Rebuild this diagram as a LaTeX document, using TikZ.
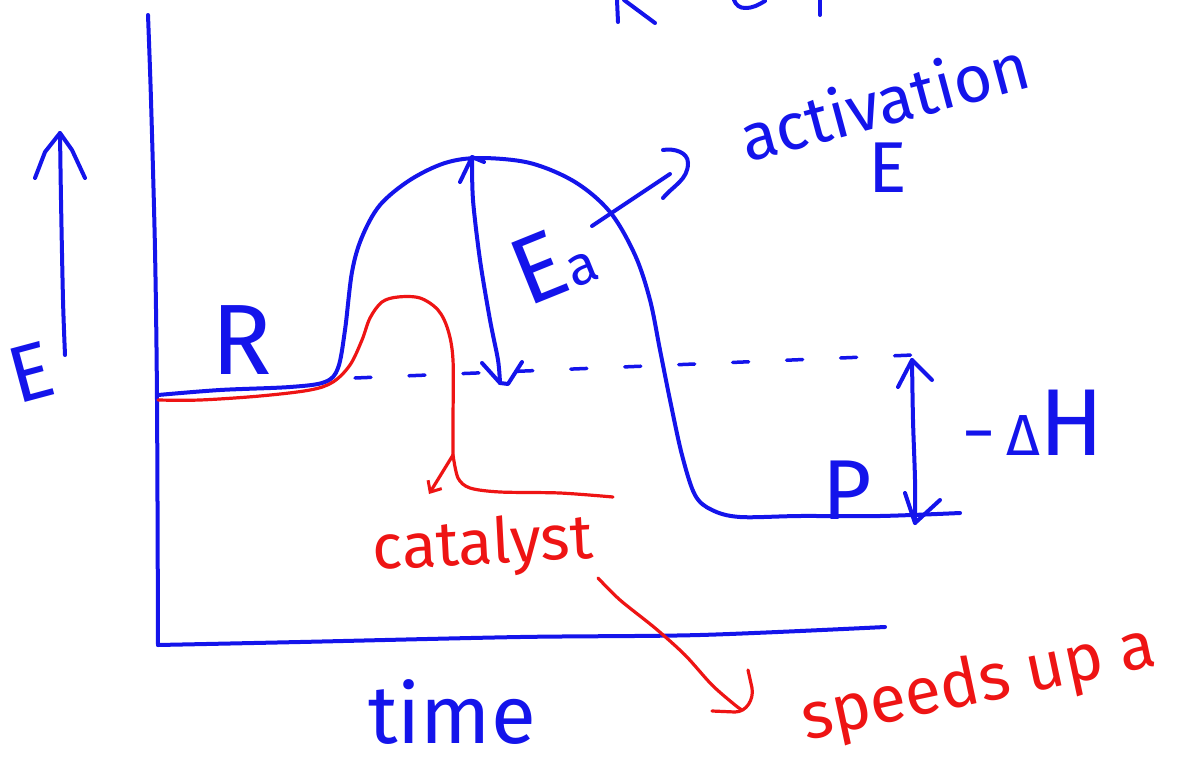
\documentclass[tikz,border=0pt]{standalone}
\usepackage{fontspec}
\setmainfont{Fira Sans}
\usetikzlibrary{arrows.meta}
\definecolor{pen}{RGB}{20,20,235}
\definecolor{redpen}{RGB}{238,20,20}
\tikzset{
  ink/.style={draw=pen, line width=4pt, line cap=round, line join=round},
  redink/.style={draw=redpen, line width=3.2pt, line cap=round, line join=round},
  hand/.style={text=pen, inner sep=0pt, outer sep=0pt},
  redhand/.style={text=redpen, inner sep=0pt, outer sep=0pt},
}
\newcommand{\fsz}[1]{\fontsize{#1}{#1}\selectfont}
\begin{document}
\begin{tikzpicture}[x=1pt,y=-1pt]
\useasboundingbox (0,0) rectangle (1183,768);
\fill[white] (0,0) rectangle (1183,768);

% cut-off strokes at the top edge
\draw[ink] (617,0) -- (618,22);
\draw[ink] (624,0) -- (655,23);
\draw[ink] (734,0) to[out=-70,in=180] (745,8) to[out=0,in=-150] (765,1);
\draw[ink] (820,0) -- (820,15);

% axes
\coordinate (ytop) at (148,15);
\coordinate (origin) at (158,645);
\coordinate (xend) at (885,627);
\draw[ink] plot[smooth] coordinates {(ytop) (151,100) (155,250) (157,400) (origin)};
\draw[ink] plot[smooth] coordinates {(origin) (300,642) (520,637) (700,635) (xend)};

% E axis arrow
\coordinate (ea0) at (65,355);
\coordinate (ea1) at (60,133);
\draw[ink] plot[smooth] coordinates {(ea0) (63,300) (61,200) (ea1)};
\draw[ink] (35,178) -- (45,152) -- (ea1) -- (72,150) -- (85,178);
\node[hand, font=\fsz{80}, rotate=15] (Eaxis) at (31,372) {E};

% reaction curve (blue)
\draw[ink] plot[smooth, tension=0.55] coordinates {
 (158,395) (220,390) (290,387) (325,382) (338,368) (345,330) (352,272) (362,237)
 (380,205) (410,180) (445,163) (480,158) (530,163) (575,182) (610,212) (635,255)
 (650,300) (660,350) (670,400) (682,455) (695,495) (712,510) (740,517) (800,516)
 (880,516) (960,513)};

% catalysed curve (red)
\coordinate (split) at (453,455);
\draw[redink] plot[smooth, tension=0.55] coordinates {
 (158,400) (200,400) (260,396) (310,390) (333,382) (350,365) (362,340) (370,318)
 (382,302) (398,297) (420,298) (438,310) (448,330) (453,360) (453,420) (split)};
\draw[redink, -{Straight Barb[length=9pt,width=16pt,line width=3pt]}] (split) -- (429,494);
\draw[redink] plot[smooth, tension=0.5] coordinates {(split) (458,478) (470,488) (500,492) (560,493) (613,497)};

% dashed reactant level
\coordinate (d0) at (355,378);
\coordinate (d1) at (913,355);
\draw[ink, line width=3.5pt, dash pattern=on 16pt off 38pt] (d0) -- (d1);

% Ea double arrow
\coordinate (eatop) at (472,157);
\coordinate (eabot) at (500,383);
\draw[ink] plot[smooth] coordinates {(eatop) (473,200) (480,260) (490,320) (498,360) (eabot)};
\draw[ink] (460,182) -- (eatop) -- (484,162);
\draw[ink] (482,363) -- (eabot) -- (508,384) -- (522,362);
\node[hand, rotate=22] (Ea) at (553,262) {\fsz{95}E\fsz{55}a};

% arrow to "activation E"
\coordinate (aa0) at (592,226);
\coordinate (aa1) at (670,174);
\draw[ink] (aa0) -- (aa1);
\draw[ink] (663,150) to[out=10,in=90] (688,163) to[out=-90,in=50] (663,198);
\node[hand, font=\fsz{66}, rotate=15] (activation) at (884,100) {activation};
\node[hand, font=\fsz{72}] (Eact) at (888,168) {E};

% -Delta H double arrow
\coordinate (dhtop) at (912,360);
\coordinate (dhbot) at (915,523);
\draw[ink] plot[smooth] coordinates {(dhtop) (913,420) (915,480) (dhbot)};
\draw[ink] (898,387) -- (dhtop) -- (932,380);
\draw[ink] (905,493) -- (dhbot) -- (940,500);
\node[hand, anchor=base west] (dH) at (962,455) {\fsz{66}−\,\fsz{58}Δ\fsz{95}H};

% labels
\node[hand, font=\fsz{100}] (R) at (242,340) {R};
\node[hand, font=\fsz{85}] (P) at (847,490) {P};
\node[hand, font=\fsz{82}] (time) at (452,712) {time};
\node[redhand, font=\fsz{63}, rotate=3] (catalyst) at (483,547) {catalyst};
\node[redhand, font=\fsz{66}, rotate=12, anchor=base west] (speeds) at (806,740) {speeds up a};

% arrow from catalyst to "speeds up a"
\draw[redink] plot[smooth] coordinates {(598,578) (620,600) (655,628) (685,655) (712,685) (735,705) (742,710)};
\draw[redink] (712,711) -- (735,712) to[out=0,in=-80] (752,688) -- (748,670);
\end{tikzpicture}
\end{document}
